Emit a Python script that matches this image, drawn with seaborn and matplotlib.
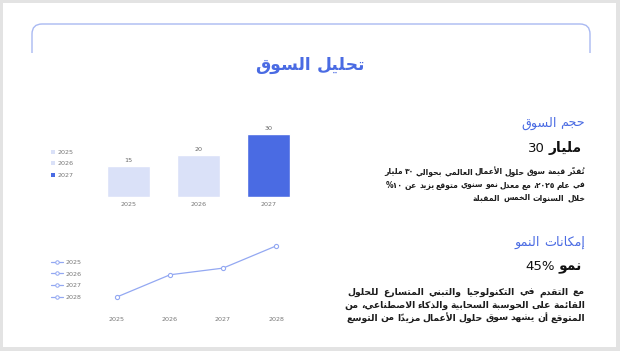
import matplotlib
matplotlib.use('Agg')
import matplotlib.pyplot as plt
import seaborn as sns
import pandas as pd
from matplotlib.patches import Rectangle, PathPatch
from matplotlib.path import Path
from matplotlib.lines import Line2D

# ---------------- data ----------------
bar_years = ['2025', '2026', '2027']
bar_values = [15, 20, 30]
bar_colors = ['#dae1f8', '#dae1f8', '#4a6be3']

line_years = ['2025', '2026', '2027', '2028']
line_values = [10, 20, 23, 33]
line_color = '#93a8f2'

title_text = 'تحليل السوق'
h1_text = 'حجم السوق'
big1_num = '30'
big1_word = 'مليار'
para1 = ['تُقدّر قيمة سوق حلول الأعمال العالمي بحوالي ٣٠ مليار',
         'في عام ٢٠٢٥، مع معدل نمو سنوي متوقع يزيد عن ١٠%',
         'خلال السنوات الخمس المقبلة']
h2_text = 'إمكانات النمو'
big2_num = '45%'
big2_word = 'نمو'
para2 = ['مع التقدم في التكنولوجيا والتبني المتسارع للحلول',
         'القائمة على الحوسبة السحابية والذكاء الاصطناعي، من',
         'المتوقع أن يشهد سوق حلول الأعمال مزيدًا من التوسع']

BLUE = '#4a6be3'
RTL_ORDER = True

# ---------------- arabic shaping ----------------
_FORMS = {0x0621: (0xFE80, 1), 0x0622: (0xFE81, 2), 0x0623: (0xFE83, 2), 0x0624: (0xFE85, 2),
          0x0625: (0xFE87, 2), 0x0626: (0xFE89, 4), 0x0627: (0xFE8D, 2), 0x0628: (0xFE8F, 4),
          0x0629: (0xFE93, 2), 0x062A: (0xFE95, 4), 0x062B: (0xFE99, 4), 0x062C: (0xFE9D, 4),
          0x062D: (0xFEA1, 4), 0x062E: (0xFEA5, 4), 0x062F: (0xFEA9, 2), 0x0630: (0xFEAB, 2),
          0x0631: (0xFEAD, 2), 0x0632: (0xFEAF, 2), 0x0633: (0xFEB1, 4), 0x0634: (0xFEB5, 4),
          0x0635: (0xFEB9, 4), 0x0636: (0xFEBD, 4), 0x0637: (0xFEC1, 4), 0x0638: (0xFEC5, 4),
          0x0639: (0xFEC9, 4), 0x063A: (0xFECD, 4), 0x0641: (0xFED1, 4), 0x0642: (0xFED5, 4),
          0x0643: (0xFED9, 4), 0x0644: (0xFEDD, 4), 0x0645: (0xFEE1, 4), 0x0646: (0xFEE5, 4),
          0x0647: (0xFEE9, 4), 0x0648: (0xFEED, 2), 0x0649: (0xFEEF, 2), 0x064A: (0xFEF1, 4)}
_LAMALEF = {0x0622: 0xFEF5, 0x0623: 0xFEF7, 0x0625: 0xFEF9, 0x0627: 0xFEFB}


def _is_mark(c):
    o = ord(c)
    return 0x064B <= o <= 0x065F or o == 0x0670 or 0x0610 <= o <= 0x061A


def _clusters(s):
    cl = []
    for c in s:
        if _is_mark(c) and cl:
            cl[-1][1] += c
        else:
            cl.append([c, ''])
    out = []
    i = 0
    while i < len(cl):
        b, m = cl[i]
        if b == '\u0644' and i + 1 < len(cl) and ord(cl[i + 1][0][0]) in _LAMALEF and len(cl[i + 1][0]) == 1:
            out.append(['LA' + cl[i + 1][0], m + cl[i + 1][1]])
            i += 2
        else:
            out.append([b, m])
            i += 1
    return out


def _nforms(b):
    if b.startswith('LA'):
        return 2
    if len(b) == 1 and ord(b) in _FORMS:
        return _FORMS[ord(b)][1]
    return 0


def _shape(s):
    cl = _clusters(s)
    res = []
    for i, (b, m) in enumerate(cl):
        n = _nforms(b)
        if n == 0:
            res.append(m + b)
            continue
        prev = _nforms(cl[i - 1][0]) if i > 0 else 0
        nxt = _nforms(cl[i + 1][0]) if i + 1 < len(cl) else 0
        jp = prev == 4 and n >= 2
        jn = n == 4 and nxt >= 2
        if b.startswith('LA'):
            g = chr(_LAMALEF[ord(b[2])] + (1 if jp else 0))
        else:
            base = _FORMS[ord(b)][0]
            idx = 3 if (jp and jn) else 2 if jn else 1 if jp else 0
            g = chr(base + idx)
        # marks placed before the base in visual order so they overlay it
        res.append(m + g)
    return res


def visual(s):
    runs = []
    for c in _shape(s):
        d = c[-1].isdigit()
        if d and runs and runs[-1][0]:
            runs[-1][1].append(c)
        else:
            runs.append([d, [c]])
    return ''.join(''.join(r[1]) for r in runs[::-1])


def word_list(text):
    vis = [visual(w) for w in text.split(' ')]
    return vis[::-1] if RTL_ORDER else vis


# ---------------- figure ----------------
sns.set_theme(style='white')
plt.rcParams['font.family'] = ['DejaVu Sans']
W, H = 620, 351
fig = plt.figure(figsize=(6.2, 3.51), dpi=100, facecolor='#e3e3e3')
fig.patches.append(Rectangle((3 / W, 4 / H), 613 / W, 344 / H, transform=fig.transFigure,
                             facecolor='white', edgecolor='none', zorder=-5))


def P(x, y):
    return (x / W, 1 - y / H)


verts = [P(32, 53), P(32, 34), P(32, 24), P(42, 24), P(580, 24), P(590, 24), P(590, 34), P(590, 53)]
codes = [Path.MOVETO, Path.LINETO, Path.CURVE3, Path.CURVE3, Path.LINETO, Path.CURVE3, Path.CURVE3, Path.LINETO]
fig.patches.append(PathPatch(Path(verts, codes), transform=fig.transFigure, fill=False,
                             edgecolor='#a9b9f2', lw=1.0, zorder=-4))

R = fig.canvas.get_renderer()


def measure(s, size, weight='normal'):
    t = fig.text(0, 0, s, fontsize=size, fontweight=weight)
    w = t.get_window_extent(renderer=R).width
    t.remove()
    return w


def space_w(size, weight):
    return measure('a a', size, weight) - measure('aa', size, weight)


def natural(text, size, weight):
    vis = word_list(text)
    return sum(measure(v, size, weight) for v in vis) + space_w(size, weight) * (len(vis) - 1)


def draw_words(vis, y, x_right, size, weight, color, x_left=None):
    ws = [measure(v, size, weight) for v in vis]
    total = sum(ws)
    sp = space_w(size, weight)
    if x_left is not None and len(vis) > 1:
        gap = max((x_right - x_left - total) / (len(vis) - 1), 0.7 * sp)
    else:
        gap = sp
    x = x_right - total - gap * (len(vis) - 1)
    for v, w in zip(vis, ws):
        fig.text(x / W, 1 - y / H, v, fontsize=size, fontweight=weight, color=color,
                 va='center', ha='left')
        x += w + gap


# title
ts = 10 * 110 / natural(title_text, 10, 'bold')
draw_words(word_list(title_text), 65, 365, ts, 'bold', BLUE)

# headings
hs = 10 * 64 / natural(h1_text, 10, 'normal')
draw_words(word_list(h1_text), 123, 585, hs, 'normal', BLUE)
draw_words(word_list(h2_text), 242, 585, hs, 'normal', BLUE)

# big numbers
for num, word, y in [(big1_num, big1_word, 148), (big2_num, big2_word, 267)]:
    vw = visual(word)
    wv = measure(vw, 10, 'bold')
    fig.text(582 / W, 1 - y / H, vw, fontsize=10, fontweight='bold', color='#111111', ha='right', va='center')
    fig.text((582 - wv - 4) / W, 1 - y / H, num, fontsize=9.5, color='#111111', ha='right', va='center')

# paragraphs
s1 = 10 * 194 / max(natural(para1[0], 10, 'bold'), natural(para1[1], 10, 'bold'))
s2 = 10 * 238 / max(natural(l, 10, 'bold') for l in para2)
ps1 = s1 * 1.07
ps2 = s2 * 1.05
for i, (line, y) in enumerate(zip(para1, [172, 185, 198])):
    draw_words(word_list(line), y, 585, ps1, 'bold', '#1c1c1c', x_left=391 if i < 2 else None)
for line, y in zip(para2, [292, 305, 318]):
    draw_words(word_list(line), y, 585, ps2, 'bold', '#1c1c1c', x_left=347)

# ---------------- bar chart ----------------
bdf = pd.DataFrame({'year': bar_years, 'value': bar_values})
ax = fig.add_axes([93.5 / W, 1 - 197 / H, 210 / W, 77.7 / H])
ax.set_facecolor('none')
sns.barplot(data=bdf, x='year', y='value', hue='year', order=bar_years, hue_order=bar_years,
            palette=dict(zip(bar_years, bar_colors)), width=0.61, dodge=False, legend=False,
            saturation=1, ax=ax)
for c in ax.containers:
    ax.bar_label(c, fmt='%d', padding=2, fontsize=4.6, color='#666666')
ax.set_xlim(-0.5, 2.5)
ax.set_ylim(0, 37)
ax.set_yticks([])
ax.set_xlabel('')
ax.set_ylabel('')
ax.tick_params(axis='x', length=0, pad=3.5, labelsize=4.6, labelcolor='#777777')
sns.despine(ax=ax, left=True, bottom=True)

bh = [Rectangle((0, 0), 1, 1, facecolor=c, edgecolor='none') for c in bar_colors]
fig.legend(bh, bar_years, loc='upper left', bbox_to_anchor=(51 / W, 1 - 149.5 / H), frameon=False,
           fontsize=4.6, labelcolor='#777777', handlelength=0.65, handleheight=0.65,
           handletextpad=0.3, labelspacing=0.97, borderaxespad=0, borderpad=0)

# ---------------- line chart ----------------
ldf = pd.DataFrame({'year': line_years, 'value': line_values})
ax2 = fig.add_axes([90.5 / W, 1 - 312 / H, 212 / W, 74 / H])
ax2.set_facecolor('none')
sns.lineplot(data=ldf, x='year', y='value', marker='o', markersize=3, markerfacecolor='white',
             markeredgecolor=line_color, markeredgewidth=0.8, color=line_color, linewidth=0.9,
             sort=False, ax=ax2)
ax2.set_xlim(-0.5, 3.5)
ax2.set_ylim(3.2, 36.6)
ax2.set_yticks([])
ax2.set_xlabel('')
ax2.set_ylabel('')
ax2.tick_params(axis='x', length=0, pad=3.5, labelsize=4.6, labelcolor='#777777')
sns.despine(ax=ax2, left=True, bottom=True)

lh = [Line2D([0], [0], color=line_color, lw=0.9, marker='o', markersize=2.5, markerfacecolor='white',
             markeredgecolor=line_color, markeredgewidth=0.7) for _ in line_years]
fig.legend(lh, line_years, loc='upper left', bbox_to_anchor=(51 / W, 1 - 259.5 / H), frameon=False,
           fontsize=4.6, labelcolor='#777777', handlelength=1.9, handletextpad=0.3,
           labelspacing=0.97, borderaxespad=0, borderpad=0)

fig.savefig('out.png', dpi=100)
